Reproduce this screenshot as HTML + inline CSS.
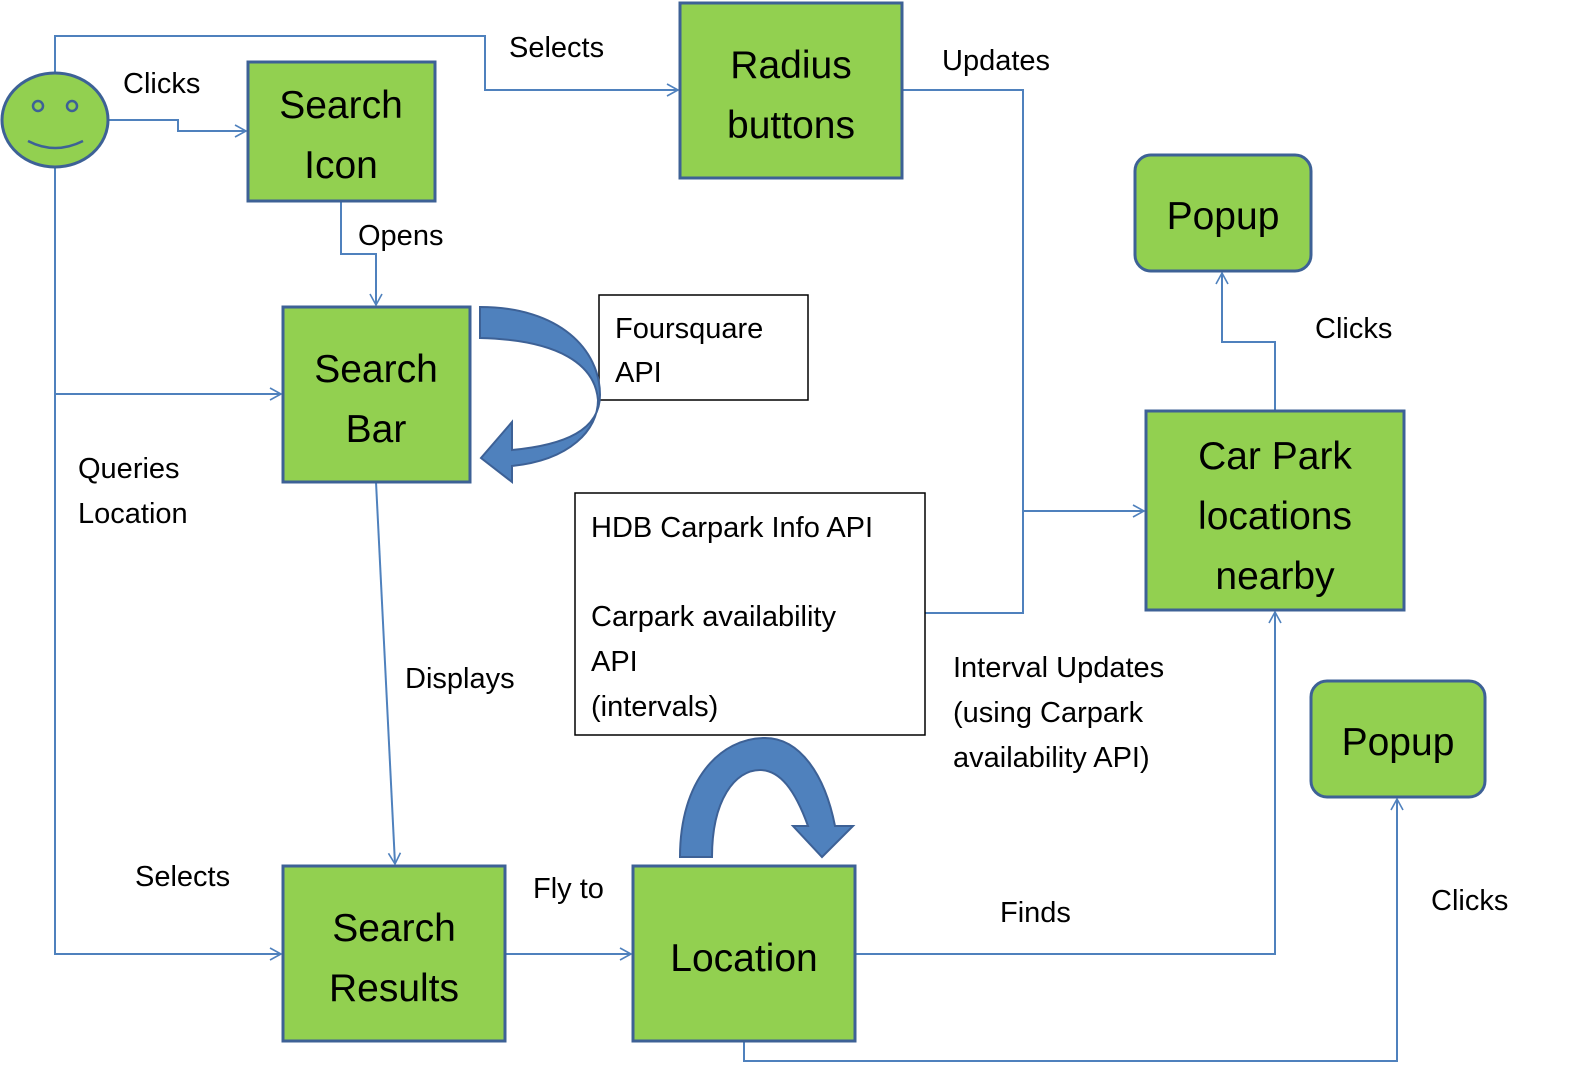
<!DOCTYPE html>
<html><head><meta charset="utf-8"><style>
html,body{margin:0;padding:0;background:#fff}
svg{display:block}
text{font-family:"Liberation Sans",sans-serif;fill:#000}
.b{font-size:39px}
.l{font-size:29px}
</style></head><body>
<svg width="1574" height="1069" viewBox="0 0 1574 1069" xmlns="http://www.w3.org/2000/svg">
<defs>
<marker id="a" markerWidth="14" markerHeight="14" refX="12" refY="7" orient="auto" markerUnits="userSpaceOnUse">
<path d="M1,1 L12,7 L1,13" fill="none" stroke="#4f81bd" stroke-width="1.6"/>
</marker>
</defs>
<g fill="none" stroke="#4f81bd" stroke-width="2">
<polyline points="55,73 55,36 485,36 485,90 678,90" marker-end="url(#a)"/>
<polyline points="108,120 178,120 178,131 246,131" marker-end="url(#a)"/>
<polyline points="55,167 55,954 281,954" marker-end="url(#a)"/>
<polyline points="55,394 281,394" marker-end="url(#a)"/>
<polyline points="341,201 341,254 376,254 376,305" marker-end="url(#a)"/>
<polyline points="376,482 395,864" marker-end="url(#a)"/>
<polyline points="505,954 631,954" marker-end="url(#a)"/>
<polyline points="902,90 1023,90 1023,613 925,613"/>
<polyline points="1023,511 1144,511" marker-end="url(#a)"/>
<polyline points="855,954 1275,954 1275,612" marker-end="url(#a)"/>
<polyline points="1275,411 1275,342 1222,342 1222,273" marker-end="url(#a)"/>
<polyline points="744,1041 744,1061 1397,1061 1397,799" marker-end="url(#a)"/>
</g>
<g fill="#92d050" stroke="#3d6196" stroke-width="3">
<ellipse cx="55" cy="120" rx="53" ry="47"/>
<rect x="248" y="62" width="187" height="139"/>
<rect x="680" y="3" width="222" height="175"/>
<rect x="283" y="307" width="187" height="175"/>
<rect x="1135" y="155" width="176" height="116" rx="16"/>
<rect x="1146" y="411" width="258" height="199"/>
<rect x="1311" y="681" width="174" height="116" rx="16"/>
<rect x="283" y="866" width="222" height="175"/>
<rect x="633" y="866" width="222" height="175"/>
</g>
<g fill="none" stroke="#3d6196" stroke-width="2.5">
<circle cx="38" cy="106" r="5"/><circle cx="72" cy="106" r="5"/>
<path d="M28,141 Q55,155 83,141"/>
</g>
<rect x="599" y="295" width="209" height="105" fill="#fff" stroke="#000" stroke-width="1.5"/>
<rect x="575" y="493" width="350" height="242" fill="#fff" stroke="#000" stroke-width="1.5"/>
<path d="M480,307 C560,307 600,350 600,395 C600,430 565,445 512,450 L512,422 L481,458 L512,482 L512,466 C570,460 598,430 598,400 C595,365 560,340 480,338 Z" fill="#4f81bd" stroke="#3d6196" stroke-width="2"/>
<path d="M680,857 C680,780 720,738 765,738 C800,738 825,775 835,826 L853,826 L822,857 L793,826 L808,826 C795,790 780,770 760,770 C735,770 712,800 712,857 Z" fill="#4f81bd" stroke="#3d6196" stroke-width="2"/>
<g class="b" text-anchor="middle">
<text x="341" y="118">Search</text><text x="341" y="178">Icon</text>
<text x="791" y="78">Radius</text><text x="791" y="138">buttons</text>
<text x="376" y="382">Search</text><text x="376" y="442">Bar</text>
<text x="1223" y="229">Popup</text>
<text x="1275" y="469">Car Park</text><text x="1275" y="529">locations</text><text x="1275" y="589">nearby</text>
<text x="1398" y="755">Popup</text>
<text x="394" y="941">Search</text><text x="394" y="1001">Results</text>
<text x="744" y="971">Location</text>
</g>
<g class="l">
<text x="123" y="93">Clicks</text>
<text x="509" y="57">Selects</text>
<text x="942" y="70">Updates</text>
<text x="358" y="245">Opens</text>
<text x="615" y="338">Foursquare</text><text x="615" y="382">API</text>
<text x="1315" y="338">Clicks</text>
<text x="78" y="478">Queries</text><text x="78" y="523">Location</text>
<text x="591" y="537">HDB Carpark Info API</text>
<text x="591" y="626">Carpark availability</text>
<text x="591" y="671">API</text>
<text x="591" y="716">(intervals)</text>
<text x="405" y="688">Displays</text>
<text x="953" y="677">Interval Updates</text>
<text x="953" y="722">(using Carpark</text>
<text x="953" y="767">availability API)</text>
<text x="135" y="886">Selects</text>
<text x="533" y="898">Fly to</text>
<text x="1000" y="922">Finds</text>
<text x="1431" y="910">Clicks</text>
</g>
</svg>
</body></html>
